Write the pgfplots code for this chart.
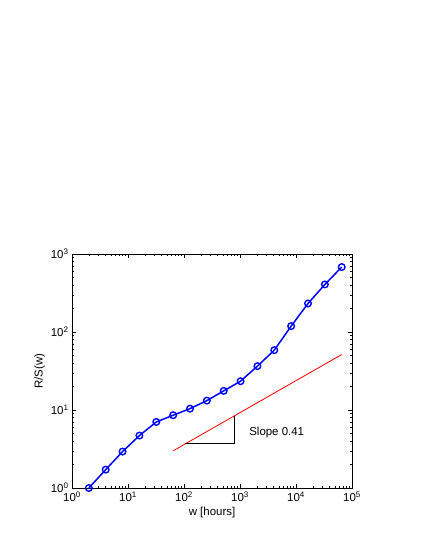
\documentclass[border=0pt]{standalone}
\usepackage{fontspec}
\setmainfont{Liberation Sans}
\usepackage{pgfplots}
\pgfplotsset{compat=1.18}
\begin{document}
\begin{tikzpicture}
\path[use as bounding box] (-72bp,-62bp) rectangle (353bp,488bp);
\begin{axis}[
  at={(0,0)}, anchor=south west,
  scale only axis, width=280bp, height=234bp,
  xmode=log, ymode=log,
  xmin=1, xmax=1e5, ymin=1, ymax=1e3,
  xtick={1,10,100,1000,10000,100000},
  xticklabels={10\textsuperscript{0},10\textsuperscript{1},10\textsuperscript{2},10\textsuperscript{3},10\textsuperscript{4},10\textsuperscript{5}},
  ytick={1,10,100,1000},
  yticklabels={10\textsuperscript{0},10\textsuperscript{1},10\textsuperscript{2},10\textsuperscript{3}},
  tick align=inside,
  major tick length=4bp, minor tick length=2.5bp,
  tick style={black, line width=0.5pt},
  axis line style={line width=0.8pt},
  ticklabel style={font=\fontsize{11.5}{13}\selectfont},
  label style={font=\fontsize{11.5}{13}\selectfont},
  xlabel={w [hours]}, ylabel={R/S(w)},
  xlabel style={yshift=1bp},
  ylabel style={yshift=-1bp},
  clip=false,
]
\addplot[blue, line width=1.5pt, mark=o, mark size=3.3bp, mark options={line width=1.4pt}] coordinates {
(2,1.0) (4,1.72) (8,2.93) (16,4.70) (32,7.03) (64,8.57) (128,10.4) (256,13.2)
(512,17.6) (1024,23.4) (2048,36.5) (4096,58.5) (8192,119) (16384,232) (32768,407) (65536,680)
};
\addplot[red, line width=0.8pt] coordinates {(64,3.0) (65536,51.4)};
\addplot[black, line width=0.8pt] coordinates {(105,3.68) (790,3.68) (790,8.4)};
\node[anchor=west, font=\fontsize{11.5}{13}\selectfont, inner sep=0pt] at (axis cs:1455,5.2) {Slope 0.41};
\end{axis}
\end{tikzpicture}
\end{document}
